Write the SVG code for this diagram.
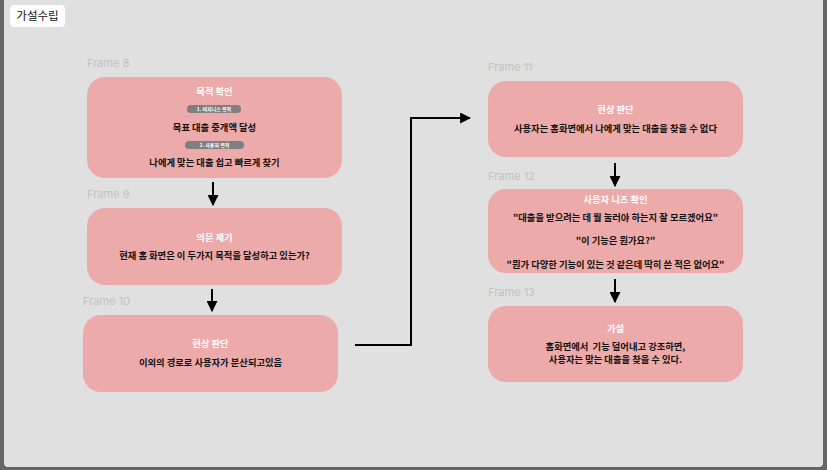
<svg xmlns="http://www.w3.org/2000/svg" width="827" height="470" viewBox="0 0 827 470">
<defs>
<style>
.bg{fill:#666666}
.panel{fill:#e0e0e0}
.node{fill:#edaaaa}
.flabel{font-family:"Inter","Noto Sans","Liberation Sans",sans-serif;font-size:11px;fill:#c2c2c2}
.title{font-family:"Noto Sans CJK KR","Noto Sans",sans-serif;font-size:9.3px;font-weight:700;fill:#ffffff;text-anchor:middle}
.body{font-family:"Noto Sans CJK KR","Noto Sans",sans-serif;font-size:9.3px;font-weight:700;fill:#111111;text-anchor:middle;white-space:pre}
.pill{fill:#7f7f7f}
.pilltxt{font-family:"Noto Sans CJK KR","Noto Sans",sans-serif;font-size:5px;font-weight:700;fill:#ffffff;text-anchor:middle}
.conn{fill:none;stroke:#000000;stroke-width:2}
</style>
<marker id="ah" viewBox="0 0 10 10" refX="9" refY="5" markerWidth="5.5" markerHeight="5.5" orient="auto" markerUnits="strokeWidth">
<path d="M0,0 L10,5 L0,10 Z" fill="#000000"/>
</marker>
</defs>
<rect class="bg" x="0" y="0" width="827" height="470"/>
<path class="panel" d="M4,0 H823 V463 Q823,467 819,467 H8 Q4,467 4,463 Z"/>
<g id="title">
<rect x="10" y="5" width="55" height="22" rx="4" fill="#ffffff"/>
<text x="37.5" y="20" font-family="Noto Sans CJK KR, Noto Sans, sans-serif" font-size="11.5" fill="#111111" text-anchor="middle">가설수립</text>
</g>
<g id="connectors">
<line class="conn" x1="213" y1="182" x2="213" y2="205" marker-end="url(#ah)"/>
<line class="conn" x1="212" y1="289" x2="212" y2="311" marker-end="url(#ah)"/>
<polyline class="conn" points="355,345 411,345 411,118 470,118" marker-end="url(#ah)"/>
<line class="conn" x1="615" y1="163" x2="615" y2="186" marker-end="url(#ah)"/>
<line class="conn" x1="615" y1="279" x2="615" y2="302" marker-end="url(#ah)"/>
</g>
<g id="frame8">
<text class="flabel" x="87" y="67">Frame 8</text>
<rect class="node" x="87" y="77" width="255" height="101" rx="18"/>
<text class="title" x="214.5" y="95">목적 확인</text>
<rect class="pill" x="187" y="105" width="54" height="8" rx="4"/>
<text class="pilltxt" x="214" y="111">1. 비지니스 목적</text>
<text class="body" x="214.5" y="131">목표 대출 중개액 달성</text>
<rect class="pill" x="185" y="141" width="59" height="8" rx="4"/>
<text class="pilltxt" x="214.5" y="147">2. 사용자 목적</text>
<text class="body" x="214.5" y="166">나에게 맞는 대출 쉽고 빠르게 찾기</text>
</g>
<g id="frame9">
<text class="flabel" x="87" y="198">Frame 9</text>
<rect class="node" x="87" y="208" width="255" height="77" rx="18"/>
<text class="title" x="214.5" y="241">의문 제기</text>
<text class="body" x="214.5" y="259">현재 홈 화면은 이 두가지 목적을 달성하고 있는가?</text>
</g>
<g id="frame10">
<text class="flabel" x="83" y="305">Frame 10</text>
<rect class="node" x="83" y="315" width="255" height="77" rx="18"/>
<text class="title" x="210.5" y="347">현상 판단</text>
<text class="body" x="210.5" y="366">이외의 경로로 사용자가 분산되고있음</text>
</g>
<g id="frame11">
<text class="flabel" x="488" y="71">Frame 11</text>
<rect class="node" x="488" y="81" width="255" height="76" rx="18"/>
<text class="title" x="615.5" y="113">현상 판단</text>
<text class="body" x="615.5" y="132">사용자는 홈화면에서 나에게 맞는 대출을 찾을 수 없다</text>
</g>
<g id="frame12">
<text class="flabel" x="488" y="180">Frame 12</text>
<rect class="node" x="488" y="189" width="255" height="84" rx="18"/>
<text class="title" x="615.5" y="203">사용자 니즈 확인</text>
<text class="body" x="615.5" y="221">"대출을 받으려는 데 뭘 눌러야 하는지 잘 모르겠어요"</text>
<text class="body" x="615.5" y="244">"이 기능은 뭔가요?"</text>
<text class="body" x="615.5" y="268">"뭔가 다양한 기능이 있는 것 같은데 딱히 쓴 적은 없어요"</text>
</g>
<g id="frame13">
<text class="flabel" x="488" y="296">Frame 13</text>
<rect class="node" x="488" y="306" width="255" height="76" rx="18"/>
<text class="title" x="615.5" y="332">가설</text>
<text class="body" x="615.5" y="350" xml:space="preserve">홈화면에서  기능 덜어내고 강조하면,</text>
<text class="body" x="615.5" y="363">사용자는 맞는 대출을 찾을 수 있다.</text>
</g>
</svg>
